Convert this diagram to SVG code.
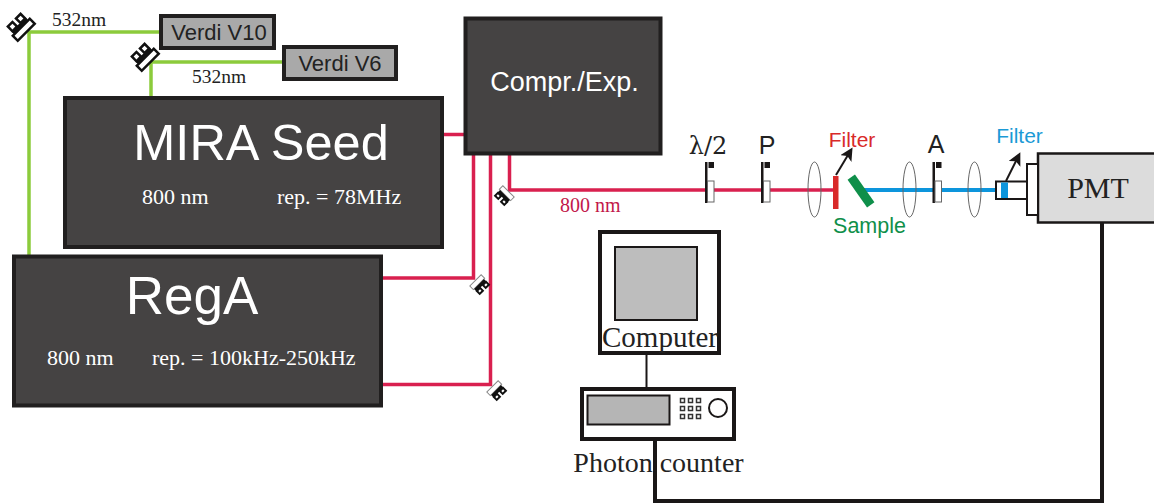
<svg xmlns="http://www.w3.org/2000/svg" width="1154" height="504" viewBox="0 0 1154 504">
<style>
.box{fill:#454343;stroke:#211f1f;stroke-width:4}
.verdi{fill:#a9a9a9;stroke:#211f1f;stroke-width:4}
.g{fill:none;stroke:#8ccb3c;stroke-width:3.5}
.r{fill:none;stroke:#d9204f;stroke-width:3.5}
.b{fill:none;stroke:#0d95dc;stroke-width:4}
.k{fill:none;stroke:#1a1717;stroke-width:4}
.lens{fill:none;stroke:#666;stroke-width:1}
.s{font-family:"Liberation Sans",Arial,sans-serif}
.t{font-family:"Liberation Serif","Times New Roman",serif}
.pl{fill:#fff;stroke:#666;stroke-width:1}
.blk{fill:#1a1717}
</style>
<defs>
<g id="mirror">
<rect x="-12" y="-1" width="24" height="7" fill="#fff" stroke="#111" stroke-width="2.500"/>
<rect x="-10" y="-5" width="20" height="4.500" fill="#111"/>
<rect x="-9" y="-11" width="6.500" height="6.500" fill="#fff" stroke="#111" stroke-width="2.500"/>
<rect x="2.500" y="-11" width="6.500" height="6.500" fill="#fff" stroke="#111" stroke-width="2.500"/>
</g>
<g id="mirrorS">
<rect x="-8" y="-5" width="16" height="5" fill="#fff" stroke="#888" stroke-width="1"/>
<rect x="-7" y="0" width="14" height="3.500" fill="#111"/>
<rect x="-6.500" y="3.500" width="4.500" height="4" fill="#fff" stroke="#111" stroke-width="2"/>
<rect x="2" y="3.500" width="4.500" height="4" fill="#fff" stroke="#111" stroke-width="2"/>
</g>
<g id="wp">
<rect x="-2" y="-28" width="2.500" height="41" class="blk"/>
<rect x="1.500" y="-28" width="5.500" height="6" class="blk"/>
<rect x="0.500" y="-9" width="6.500" height="21" class="pl"/>
</g>
<marker id="ah" markerWidth="6.500" markerHeight="6.500" refX="5" refY="3.250" orient="auto"><path d="M0 0L6.500 3.250L0 6.500L1.500 3.250Z" fill="#1a1717"/></marker>
</defs>

<g id="connectors">
<path class="g" d="M160 32H29V256"/>
<path class="g" d="M283 62H151V97"/>
<path class="r" d="M442 134.500H465"/>
<path class="r" d="M382 278H473.500V154"/>
<path class="r" d="M382 384.500H490.500V154"/>
<path class="r" d="M509.500 154V190H835"/>
<path class="b" d="M861 190H999"/>
<path d="M646.500 354V388" fill="none" stroke="#1a1717" stroke-width="2"/>
</g>

<g id="mirror-v10"><use href="#mirror" transform="translate(22 28) rotate(-45)"/></g>
<g id="mirror-v6"><use href="#mirror" transform="translate(146 58) rotate(-45)"/></g>
<g id="mirror-out"><use href="#mirrorS" transform="translate(505 195) rotate(45)"/></g>
<g id="mirror-rega1"><use href="#mirrorS" transform="translate(479 284) rotate(-45)"/></g>
<g id="mirror-rega2"><use href="#mirrorS" transform="translate(496 390) rotate(-45)"/></g>

<g id="verdi-v10"><rect class="verdi" x="161" y="16" width="113" height="32"/><text class="s" x="219" y="40" font-size="22" text-anchor="middle" fill="#222">Verdi V10</text></g>
<g id="verdi-v6"><rect class="verdi" x="284" y="47" width="112" height="32"/><text class="s" x="340" y="71" font-size="22" text-anchor="middle" fill="#222">Verdi V6</text></g>
<text class="t" x="52" y="26" font-size="19.500" fill="#222">532nm</text>
<text class="t" x="192" y="83" font-size="19.500" fill="#222">532nm</text>

<g id="compr"><rect class="box" x="465.500" y="18.500" width="195" height="135"/><text class="s" x="564.500" y="91" font-size="27" text-anchor="middle" fill="#fff">Compr./Exp.</text></g>
<g id="mira"><rect class="box" x="65" y="98" width="377" height="149"/>
<text class="s" x="261" y="160" font-size="50.500" text-anchor="middle" fill="#fff">MIRA Seed</text>
<text class="t" x="142" y="204" font-size="22" fill="#fff">800 nm</text>
<text class="t" x="277" y="204" font-size="22" fill="#fff">rep. = 78MHz</text></g>
<g id="rega"><rect class="box" x="14" y="256.500" width="367" height="149"/>
<text class="s" x="192" y="314" font-size="53" text-anchor="middle" fill="#fff">RegA</text>
<text class="t" x="47" y="365" font-size="22" fill="#fff">800 nm</text>
<text class="t" x="152" y="365" font-size="22" fill="#fff">rep. = 100kHz-250kHz</text></g>

<text class="t" x="560" y="212" font-size="20" fill="#c2184a">800 nm</text>

<g id="halfwave"><use href="#wp" transform="translate(707 190)"/><text x="708" y="154" font-size="24" text-anchor="middle" fill="#222" font-family="'DejaVu Serif','Liberation Serif',serif">λ/2</text></g>
<g id="polarizer"><use href="#wp" transform="translate(763 190)"/><text class="s" x="767" y="154" font-size="25" text-anchor="middle" fill="#222">P</text></g>
<g id="analyzer"><use href="#wp" transform="translate(934.500 190)"/><text class="s" x="936" y="153" font-size="25" text-anchor="middle" fill="#222">A</text></g>

<g id="lens1"><ellipse class="lens" cx="814.500" cy="189.500" rx="6.500" ry="27.500"/></g>
<g id="lens2"><ellipse class="lens" cx="909.500" cy="189.500" rx="6.500" ry="27.500"/></g>
<g id="lens3"><ellipse class="lens" cx="974.500" cy="189.500" rx="6.500" ry="27.500"/></g>

<g id="filter-red">
<rect x="833" y="176" width="5.500" height="33" fill="#d92a2a"/>
<path d="M836 175L851 150" stroke="#1a1717" stroke-width="2" fill="none" marker-end="url(#ah)"/>
<text class="s" x="852" y="147" font-size="21" text-anchor="middle" fill="#d92a2a">Filter</text>
</g>
<g id="sample">
<rect x="-4.500" y="-17" width="9" height="34" fill="#0f8f4a" transform="translate(861 191) rotate(-35)"/>
<text class="s" x="869.500" y="233" font-size="21.500" text-anchor="middle" fill="#0f8f4a">Sample</text>
</g>

<g id="pmt">
<rect x="1038" y="153.500" width="120" height="69" fill="#dcdcdc" stroke="#1a1717" stroke-width="2.500"/>
<rect x="1027" y="164" width="11" height="51" fill="#fff" stroke="#1a1717" stroke-width="2"/>
<rect x="996" y="181.500" width="31" height="17.500" fill="#fff" stroke="#1a1717" stroke-width="2"/>
<rect x="1001" y="182.500" width="7" height="15.500" fill="#0d95dc"/>
<path d="M1006 181L1019 155" stroke="#1a1717" stroke-width="2" fill="none" marker-end="url(#ah)"/>
<text class="s" x="1019.500" y="143" font-size="21" text-anchor="middle" fill="#1b9ad6">Filter</text>
<text class="t" x="1098" y="198" font-size="30" text-anchor="middle" fill="#222">PMT</text>
</g>

<g id="computer">
<rect x="600" y="232" width="119" height="121" fill="#fff" stroke="#1a1717" stroke-width="4"/>
<rect x="615" y="247" width="82" height="73" fill="#bdbdbd" stroke="#1a1717" stroke-width="2"/>
<text class="t" x="660" y="347" font-size="29" text-anchor="middle" fill="#222">Computer</text>
</g>

<g id="photon-counter">
<rect x="582" y="389" width="152" height="50" fill="#fff" stroke="#1a1717" stroke-width="4"/>
<rect x="587.500" y="395.500" width="82" height="29" fill="#b5b5b5" stroke="#1a1717" stroke-width="2"/>
<g fill="none" stroke="#333" stroke-width="1.500">
<rect x="680.500" y="398.500" width="4" height="4"/><rect x="688.500" y="398.500" width="4" height="4"/><rect x="696.500" y="398.500" width="4" height="4"/>
<rect x="680.500" y="406.500" width="4" height="4"/><rect x="688.500" y="406.500" width="4" height="4"/><rect x="696.500" y="406.500" width="4" height="4"/>
<rect x="680.500" y="414.500" width="4" height="4"/><rect x="688.500" y="414.500" width="4" height="4"/><rect x="696.500" y="414.500" width="4" height="4"/>
</g>
<circle cx="718" cy="408" r="9" fill="none" stroke="#1a1717" stroke-width="2"/>
<text class="t" x="658.500" y="472" font-size="28" text-anchor="middle" fill="#222">Photon counter</text>
</g>
<g id="pmt-link"><path class="k" d="M1102 222V501H655V440"/></g>
</svg>
